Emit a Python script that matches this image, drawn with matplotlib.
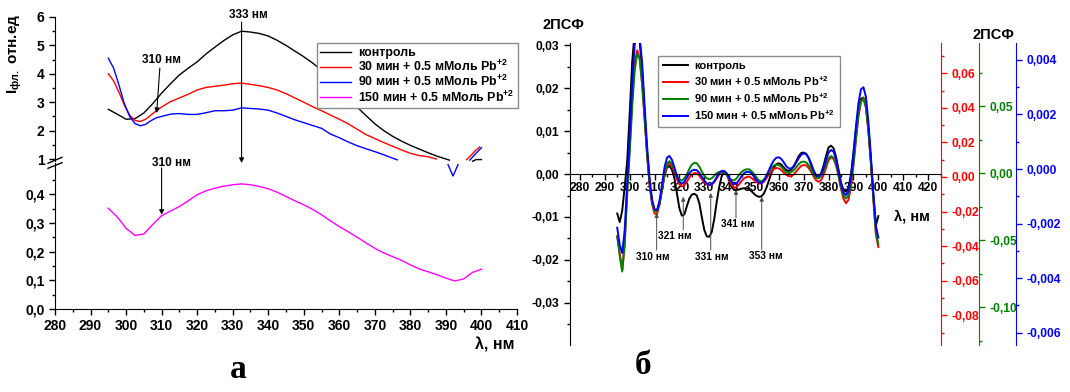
import numpy as np
import matplotlib
matplotlib.use("Agg")
import matplotlib.pyplot as plt
from matplotlib.ticker import MultipleLocator, FuncFormatter, FixedLocator
from matplotlib.lines import Line2D

plt.rcParams['font.family'] = ['Liberation Sans', 'DejaVu Sans']
plt.rcParams['font.weight'] = 'bold'
plt.rcParams['mathtext.fontset'] = 'custom'
plt.rcParams['mathtext.rm'] = 'Liberation Sans:bold'
plt.rcParams['mathtext.bf'] = 'Liberation Sans:bold'
plt.rcParams['mathtext.it'] = 'Liberation Sans:bold'

nan = np.nan

# ---------- а: спектры флуоресценции ----------
ctrl_wl = [295, 297.5, 300, 302.5, 305, 307.5, 310, 312.5, 315, 317.5, 320, 322.5, 325, 327.5,
           330, 332.5, 335, 337.5, 340, 342.5, 345, 347.5, 350, 352.5, 355, 357.5, 360, 362.5,
           365, 367.5, 370, 372.5, 375, 377.5, 380, 382.5, 385, 387.5, 390, 391, 394, 397.5, 398.5, 400]
ctrl_I = [2.75, 2.58, 2.40, 2.42, 2.62, 2.95, 3.32, 3.65, 3.96, 4.20, 4.42, 4.70, 4.94, 5.17,
          5.37, 5.50, 5.47, 5.42, 5.33, 5.18, 5.00, 4.80, 4.60, 4.38, 4.12, 3.80, 3.47, 3.13,
          2.83, 2.53, 2.24, 2.00, 1.80, 1.63, 1.48, 1.35, 1.22, 1.10, 1.00, 0.96, nan, 0.92, 0.98, 0.98]

red_wl = [295, 296.5, 298, 299.5, 301, 302.5, 304, 305.5, 307, 308.5, 310, 312.5, 315, 317.5,
          320, 322.5, 325, 327.5, 330, 332.5, 335, 337.5, 340, 342.5, 345, 347.5, 350, 352.5,
          355, 357.5, 360, 362.5, 365, 367.5, 370, 372.5, 375, 377.5, 380, 382.5, 385, 387.3,
          391, 395.8, 397.2, 398.6, 399.5]
red_I = [4.00, 3.75, 3.35, 2.90, 2.55, 2.36, 2.32, 2.40, 2.55, 2.70, 2.83, 3.02, 3.15, 3.28,
         3.43, 3.52, 3.56, 3.60, 3.65, 3.67, 3.63, 3.58, 3.52, 3.43, 3.30, 3.15, 3.00, 2.84,
         2.70, 2.55, 2.40, 2.24, 2.05, 1.86, 1.72, 1.58, 1.45, 1.32, 1.20, 1.12, 1.08, 1.00,
         nan, 0.98, 1.15, 1.33, 1.42]

blue_wl = [295, 296.5, 298, 299.5, 301, 302.5, 304, 305.5, 307, 308.5, 310, 312.5, 315, 317.5,
           320, 322.5, 325, 327.5, 330, 332.5, 335, 337.5, 340, 342.5, 345, 347.5, 350, 352.5,
           355, 357.5, 360, 362.5, 365, 367.5, 370, 372.5, 375, 376.3, 383, 390.6, 392, 393.4,
           395, 396.7, 398.3, 400]
blue_I = [4.55, 4.20, 3.60, 2.95, 2.50, 2.25, 2.17, 2.22, 2.35, 2.45, 2.50, 2.58, 2.60, 2.57,
          2.57, 2.63, 2.70, 2.70, 2.72, 2.80, 2.78, 2.76, 2.72, 2.62, 2.50, 2.38, 2.28, 2.18,
          2.08, 1.88, 1.75, 1.60, 1.47, 1.36, 1.26, 1.15, 1.03, 0.97, nan, 0.80, 0.40, 0.80,
          nan, 0.96, 1.18, 1.40]

mag_wl = np.arange(295, 401, 2.5)
mag_I = [0.352, 0.322, 0.282, 0.257, 0.262, 0.295, 0.326, 0.342, 0.358, 0.378,
         0.399, 0.413, 0.422, 0.429, 0.434, 0.437, 0.434, 0.428, 0.420, 0.408,
         0.393, 0.378, 0.364, 0.348, 0.329, 0.308, 0.288, 0.270, 0.251, 0.231,
         0.212, 0.196, 0.183, 0.170, 0.154, 0.140, 0.130, 0.120, 0.108, 0.098,
         0.105, 0.128, 0.139]

labels_a = ['контроль', '30 мин + 0.5 мМоль Pb$^{+2}$', '90 мин + 0.5 мМоль Pb$^{+2}$',
            '150 мин + 0.5 мМоль Pb$^{+2}$']

# ---------- б: вторые производные (2ПСФ) ----------
d2_wl = np.arange(295, 401)
d2_ctrl = [-0.0092, -0.0112, -0.0085, -0.0030, 0.0030, 0.0140, 0.0260, 0.0330, 0.0340, 0.0310,
           0.0240, 0.0140, 0.0050, -0.0020, -0.0065, -0.0085, -0.0086, -0.0068, -0.0035, -0.0003,
           0.0015, 0.0019, 0.0010, -0.0010, -0.0045, -0.0080, -0.0097, -0.0094, -0.0075, -0.0057,
           -0.0048, -0.0046, -0.0050, -0.0068, -0.0100, -0.0130, -0.0145, -0.0146, -0.0135, -0.0105,
           -0.0065, -0.0030, -0.0005, 0.0005, 0.0000, -0.0015, -0.0030, -0.0036, -0.0037, -0.0036,
           -0.0034, -0.0033, -0.0033, -0.0035, -0.0040, -0.0046, -0.0051, -0.0053, -0.0052, -0.0045,
           -0.0032, -0.0015, 0.0002, 0.0015, 0.0023, 0.0025, 0.0022, 0.0015, 0.0009, 0.0007,
           0.0010, 0.0018, 0.0030, 0.0042, 0.0049, 0.0050, 0.0047, 0.0037, 0.0020, 0.0005,
           -0.0004, -0.0006, 0.0002, 0.0020, 0.0043, 0.0062, 0.0066, 0.0060, 0.0040, 0.0010,
           -0.0020, -0.0037, -0.0041, -0.0032, 0.0000, 0.0050, 0.0105, 0.0153, 0.0175, 0.0178,
           0.0158, 0.0105, 0.0030, -0.0050, -0.0120, -0.0098]
d2_30 = [-0.0145, -0.0185, -0.0224, -0.0160, -0.0040, 0.0060, 0.0170, 0.0255, 0.0288, 0.0270,
         0.0210, 0.0130, 0.0045, -0.0025, -0.0070, -0.0092, -0.0093, -0.0072, -0.0038, -0.0005,
         0.0020, 0.0026, 0.0018, 0.0005, -0.0012, -0.0024, -0.0029, -0.0026, -0.0018, -0.0008,
         -0.0001, 0.0002, 0.0002, -0.0004, -0.0012, -0.0019, -0.0024, -0.0026, -0.0025, -0.0019,
         -0.0010, -0.0001, 0.0005, 0.0005, 0.0000, -0.0012, -0.0025, -0.0032, -0.0030, -0.0024,
         -0.0016, -0.0010, -0.0007, -0.0006, -0.0009, -0.0014, -0.0019, -0.0022, -0.0022, -0.0018,
         -0.0010, -0.0001, 0.0007, 0.0012, 0.0014, 0.0013, 0.0009, 0.0003, -0.0002, -0.0005,
         -0.0005, -0.0001, 0.0006, 0.0013, 0.0019, 0.0021, 0.0020, 0.0014, 0.0005, -0.0006,
         -0.0015, -0.0018, -0.0014, -0.0002, 0.0015, 0.0032, 0.0039, 0.0035, 0.0020, -0.0005,
         -0.0035, -0.0058, -0.0068, -0.0060, -0.0030, 0.0020, 0.0080, 0.0135, 0.0168, 0.0176,
         0.0155, 0.0100, 0.0025, -0.0060, -0.0140, -0.0170]
d2_90 = [-0.0145, -0.0190, -0.0227, -0.0165, -0.0045, 0.0050, 0.0155, 0.0240, 0.0280, 0.0268,
         0.0210, 0.0130, 0.0048, -0.0020, -0.0065, -0.0086, -0.0087, -0.0068, -0.0035, 0.0000,
         0.0025, 0.0030, 0.0023, 0.0010, -0.0004, -0.0013, -0.0015, -0.0010, 0.0000, 0.0012,
         0.0022, 0.0026, 0.0025, 0.0017, 0.0006, -0.0004, -0.0010, -0.0012, -0.0010, -0.0004,
         0.0002, 0.0005, 0.0006, 0.0004, -0.0002, -0.0009, -0.0014, -0.0015, -0.0010, -0.0002,
         0.0005, 0.0009, 0.0011, 0.0011, 0.0007, 0.0000, -0.0008, -0.0015, -0.0017, -0.0013,
         -0.0005, 0.0005, 0.0014, 0.0020, 0.0022, 0.0021, 0.0017, 0.0010, 0.0004, 0.0002,
         0.0004, 0.0009, 0.0016, 0.0023, 0.0028, 0.0029, 0.0027, 0.0020, 0.0010, -0.0002,
         -0.0009, -0.0010, -0.0005, 0.0007, 0.0022, 0.0037, 0.0042, 0.0038, 0.0023, -0.0002,
         -0.0030, -0.0050, -0.0057, -0.0050, -0.0022, 0.0025, 0.0083, 0.0137, 0.0170, 0.0177,
         0.0157, 0.0103, 0.0030, -0.0055, -0.0135, -0.0163]
d2_150 = [-0.0125, -0.0165, -0.0184, -0.0130, -0.0020, 0.0090, 0.0210, 0.0300, 0.0330, 0.0320,
          0.0260, 0.0160, 0.0065, -0.0010, -0.0060, -0.0082, -0.0084, -0.0062, -0.0025, 0.0015,
          0.0038, 0.0042, 0.0033, 0.0015, -0.0005, -0.0018, -0.0022, -0.0018, -0.0008, 0.0002,
          0.0008, 0.0010, 0.0009, 0.0003, -0.0006, -0.0015, -0.0022, -0.0025, -0.0024, -0.0017,
          -0.0007, 0.0002, 0.0007, 0.0007, 0.0002, -0.0008, -0.0018, -0.0024, -0.0022, -0.0014,
          -0.0005, 0.0002, 0.0005, 0.0005, 0.0002, -0.0006, -0.0014, -0.0020, -0.0021, -0.0015,
          -0.0004, 0.0009, 0.0022, 0.0032, 0.0038, 0.0039, 0.0035, 0.0027, 0.0018, 0.0013,
          0.0013, 0.0018, 0.0027, 0.0037, 0.0045, 0.0048, 0.0046, 0.0038, 0.0024, 0.0008,
          -0.0003, -0.0006, 0.0000, 0.0014, 0.0033, 0.0050, 0.0056, 0.0052, 0.0034, 0.0005,
          -0.0025, -0.0043, -0.0049, -0.0040, -0.0008, 0.0045, 0.0110, 0.0165, 0.0197, 0.0202,
          0.0180, 0.0122, 0.0042, -0.0045, -0.0120, -0.0148]
labels_b = labels_a

W, H = 1070, 392
fig = plt.figure(figsize=(W / 100, H / 100), dpi=100)


def box(x0, y0, x1, y1):
    # pixel box (top-left origin) -> figure fraction
    return [x0 / W, 1 - y1 / H, (x1 - x0) / W, (y1 - y0) / H]


def comma(dec):
    def f(v, pos):
        if abs(v) < 1e-12:
            v = 0.0
        return f"{v:.{dec}f}".replace('.', ',')
    return FuncFormatter(f)


# ---- panel а ----
ax_lo = fig.add_axes(box(55, 163, 517, 309))
ax_up = fig.add_axes(box(55, 17, 517, 161))
ax_up.patch.set_visible(False)

l1, = ax_up.plot(ctrl_wl, ctrl_I, color='black', lw=1.0, clip_on=False)
l2, = ax_up.plot(red_wl, red_I, color='#ff0000', lw=1.0, clip_on=False)
l3, = ax_up.plot(blue_wl, blue_I, color='#0000ff', lw=1.0, clip_on=False)
l4, = ax_lo.plot(mag_wl, mag_I, color='#ff00ff', lw=1.0)

for a in (ax_up, ax_lo):
    a.set_xlim(280, 410)
    a.spines['top'].set_visible(False)
    a.spines['right'].set_visible(False)
    a.xaxis.set_major_locator(MultipleLocator(10))
    a.xaxis.set_minor_locator(MultipleLocator(5))
    a.tick_params(which='major', direction='out', length=4, width=1, labelsize=10)
    a.tick_params(which='minor', direction='out', length=2.5, width=1)
ax_up.spines['bottom'].set_visible(False)
ax_up.tick_params(axis='x', which='both', bottom=False, labelbottom=False)
ax_up.set_ylim(0.93, 6.0)
ax_up.yaxis.set_major_locator(MultipleLocator(1))
ax_up.yaxis.set_minor_locator(MultipleLocator(0.5))
ax_up.yaxis.set_major_formatter(FuncFormatter(lambda v, p: f"{v:.0f}"))
ax_lo.set_ylim(0, 0.51)
ax_lo.yaxis.set_major_locator(FixedLocator([0, 0.1, 0.2, 0.3, 0.4]))
ax_lo.yaxis.set_minor_locator(FixedLocator([0.05, 0.15, 0.25, 0.35, 0.45]))
ax_lo.yaxis.set_major_formatter(comma(1))

# break marks on the y axis
for y0, y1 in ((163.3, 157.3), (168.3, 162.7)):
    fig.add_artist(Line2D([48 / W, 62 / W], [1 - y0 / H, 1 - y1 / H], color='black', lw=1))

arr = dict(arrowstyle='-|>', color='black', lw=0.8, mutation_scale=7, shrinkA=0, shrinkB=0)
ax_up.annotate('', xy=(332.5, 0.86), xytext=(332.5, 5.82), arrowprops=arr, annotation_clip=False)
ax_up.text(334.3, 6.07, '333 нм', ha='center', va='center', fontsize=8.5, clip_on=False)
ax_up.annotate('', xy=(308.6, 2.62), xytext=(309.5, 4.2), arrowprops=arr, annotation_clip=False)
ax_up.text(310.1, 4.49, '310 нм', ha='center', va='center', fontsize=8.5)
ax_lo.annotate('', xy=(310, 0.329), xytext=(310, 0.493), arrowprops=arr, annotation_clip=False)
ax_lo.text(312.9, 0.51, '310 нм', ha='center', va='center', fontsize=8.5, clip_on=False)

fig.legend([l1, l2, l3, l4], labels_a, loc='upper left', bbox_to_anchor=(316.7 / W, 1 - 43.3 / H),
           frameon=True, fancybox=False, edgecolor='0.55', framealpha=1, fontsize=8.9,
           handlelength=2.5, handletextpad=0.55, labelspacing=0.0, borderpad=0.3,
           borderaxespad=0)

fig.text(15 / W, 1 - 54 / H, r'$\mathbf{I}_{\mathbf{фл.}}$ отн.ед', rotation=90,
         ha='center', va='center', fontsize=11)
fig.text(495 / W, 1 - 345 / H, 'λ, нм', ha='center', va='center', fontsize=11.5)

# ---- panel б ----
ax_d = fig.add_axes(box(570, 43, 941, 345))
ax_d.plot(d2_wl, d2_ctrl, color='black', lw=1.4, label=labels_b[0])
ax_d.plot(d2_wl, d2_30, color='#ff0000', lw=1.4, label=labels_b[1])
ax_d.plot(d2_wl, d2_90, color='#008000', lw=1.4, label=labels_b[2])
ax_d.plot(d2_wl, d2_150, color='#0000ff', lw=1.4, label=labels_b[3])
ax_d.set_xlim(276, 425.2)
ax_d.set_ylim(-0.0398, 0.0305)
ax_d.spines['top'].set_visible(False)
ax_d.spines['right'].set_visible(False)
ax_d.spines['bottom'].set_position(('data', 0))
ax_d.xaxis.set_major_locator(MultipleLocator(10))
ax_d.xaxis.set_minor_locator(MultipleLocator(5))
ax_d.yaxis.set_major_locator(MultipleLocator(0.01))
ax_d.yaxis.set_minor_locator(MultipleLocator(0.005))
ax_d.yaxis.set_major_formatter(comma(2))
ax_d.tick_params(which='major', direction='out', length=4, width=1, labelsize=8.7)
ax_d.tick_params(which='minor', direction='out', length=2.5, width=1)
ax_d.tick_params(axis='x', pad=2)

twins = [('#ff0000', 1.0, (-0.0972, 0.0775), 0.02, 0.01, 2),
         ('#008000', (979 - 570) / 371, (-0.128, 0.097), 0.05, 0.025, 2),
         ('#0000ff', (1016 - 570) / 371, (-0.00645, 0.00462), 0.002, 0.001, 3)]
for col, pos, lim, maj, mnr, dec in twins:
    t = ax_d.twinx()
    t.spines['right'].set_position(('axes', pos))
    for s in ('left', 'top', 'bottom'):
        t.spines[s].set_visible(False)
    t.spines['right'].set_color(col)
    t.set_ylim(*lim)
    t.yaxis.set_major_locator(MultipleLocator(maj))
    t.yaxis.set_minor_locator(MultipleLocator(mnr))
    t.yaxis.set_major_formatter(comma(dec))
    t.tick_params(axis='y', which='major', direction='out', length=4, width=1,
                  colors=col, labelsize=8.7)
    t.tick_params(axis='y', which='minor', direction='out', length=2.5, width=1, colors=col)

parr = dict(arrowstyle='-|>', color='0.3', lw=0.7, mutation_scale=6, shrinkA=0, shrinkB=0)
peaks = [('310 нм', 310.85, -0.0091, -0.0177, 309.4, -0.0194),
         ('321 нм', 321.55, -0.0053, -0.0130, 318.2, -0.0144),
         ('331 нм', 332.6, -0.0044, -0.0177, 333.0, -0.0194),
         ('341 нм', 342.75, -0.0037, -0.0102, 343.4, -0.0116),
         ('353 нм', 353.1, -0.0053, -0.0177, 354.8, -0.0191)]
for lab, xw, tip, tail, tx, ty in peaks:
    ax_d.annotate('', xy=(xw, tip), xytext=(xw, tail), arrowprops=parr)
    ax_d.text(tx, ty, lab, ha='center', va='center', fontsize=7.3)

ax_d.legend(loc='upper left', bbox_to_anchor=(657.7 / W, 1 - 56 / H),
            bbox_transform=fig.transFigure, frameon=True, fancybox=False, edgecolor='0.55',
            framealpha=1, fontsize=8, handlelength=2.3, handletextpad=0.5,
            labelspacing=0.28, borderpad=0.45, borderaxespad=0)

fig.text(563 / W, 1 - 25 / H, '2ПСФ', ha='center', va='center', fontsize=10.5)
fig.text(993 / W, 1 - 35 / H, '2ПСФ', ha='center', va='center', fontsize=10.5)
fig.text(911.7 / W, 1 - 216.7 / H, 'λ, нм', ha='center', va='center', fontsize=10.5)

fig.text(238 / W, 1 - 369 / H, 'а', ha='center', va='center', fontsize=24,
         family='Liberation Serif', weight='bold')
fig.text(643 / W, 1 - 366 / H, 'б', ha='center', va='center', fontsize=24,
         family='Liberation Serif', weight='bold')

fig.savefig('out.png', dpi=100)
